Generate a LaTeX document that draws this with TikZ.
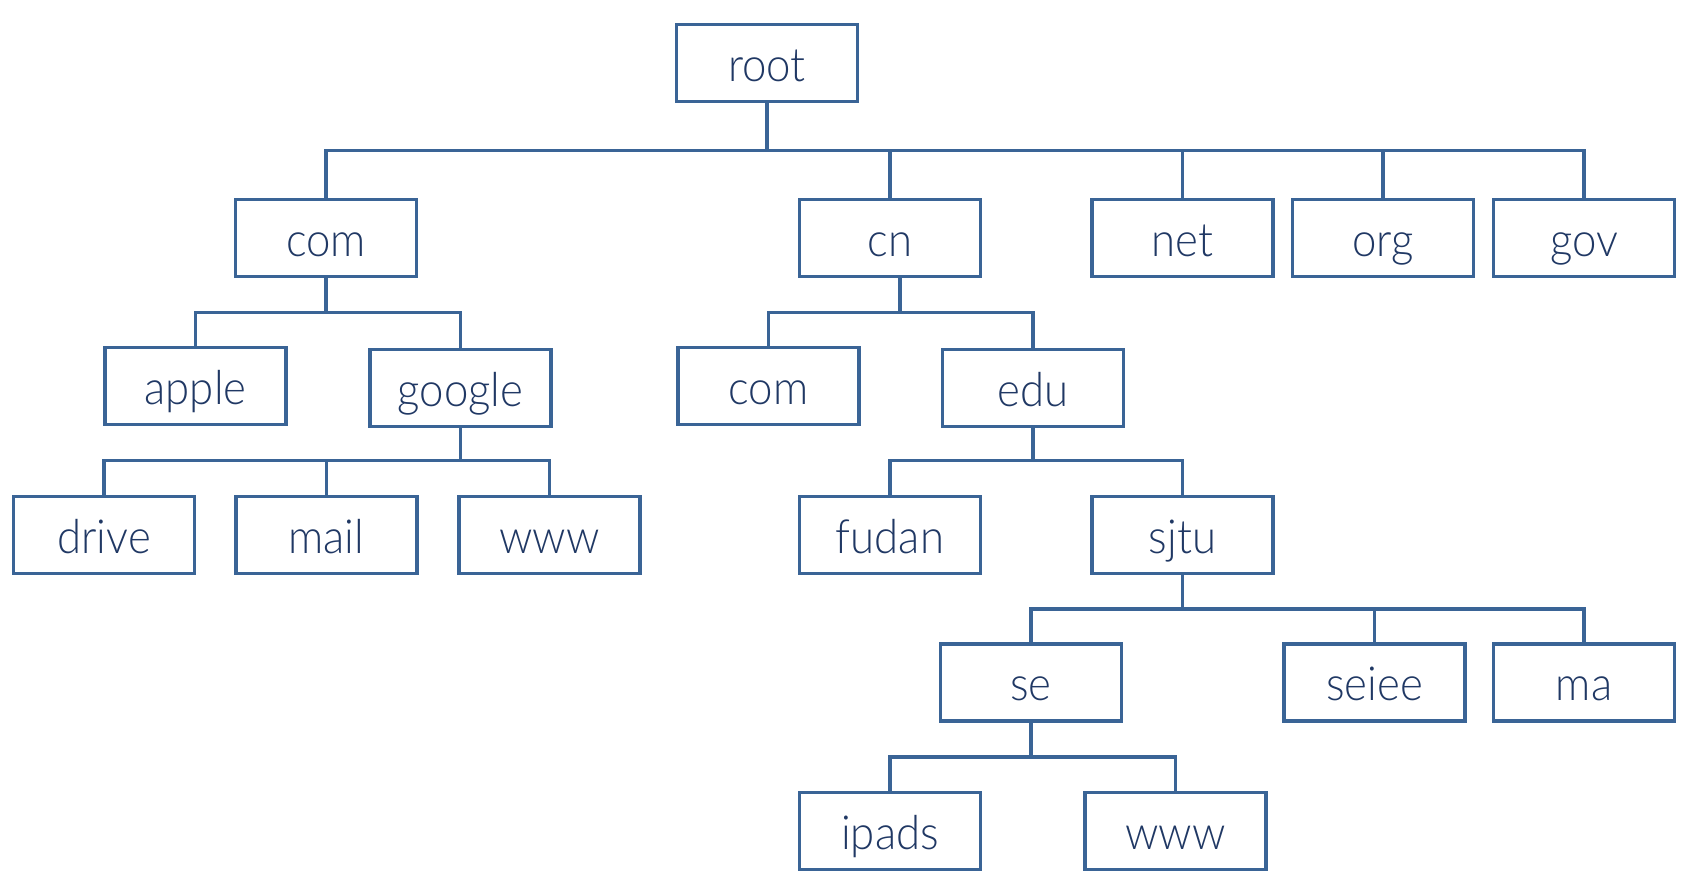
\documentclass[tikz,border=0pt]{standalone}
\usepackage{fontspec}
\setmainfont{Lato}[UprightFont=* Light, FakeStretch=0.93]
\definecolor{boxblue}{RGB}{58,100,150}
\definecolor{txtblue}{RGB}{32,56,100}
\tikzset{
  dom/.style={draw=boxblue, line width=3.5pt, minimum width=181pt, minimum height=77pt,
    inner sep=0pt, text=txtblue, font=\fontsize{47}{50}\selectfont,
    text height=36pt, text depth=0pt},
  conn/.style={draw=boxblue, line width=3.3pt, line join=miter}
}
\begin{document}
\begin{tikzpicture}[x=1pt,y=-1pt]
\useasboundingbox (0,0) rectangle (1684,881);
% bus levels
\coordinate (y1) at (0,150.5);
\coordinate (y2) at (0,312.5);
\coordinate (y3) at (0,460.7);
\coordinate (y4) at (0,609);
\coordinate (y5) at (0,757);
\coordinate (cnx) at (900,0);
% nodes
\node[dom] (root) at (767,63) {root};
\node[dom] (com) at (326,238) {com};
\node[dom] (cn) at (890,238) {cn};
\node[dom] (net) at (1182.5,238) {net};
\node[dom] (org) at (1383,238) {org};
\node[dom] (gov) at (1584,238) {gov};
\node[dom] (apple) at (195.5,386) {apple};
\node[dom] (google) at (460.5,388) {google};
\node[dom] (com2) at (768.5,386) {com};
\node[dom] (edu) at (1033,388) {edu};
\node[dom] (drive) at (104,535) {drive};
\node[dom] (mail) at (326.5,535) {mail};
\node[dom] (www) at (549.5,535) {www};
\node[dom] (fudan) at (890,535) {fudan};
\node[dom] (sjtu) at (1182.5,535) {sjtu};
\node[dom] (se) at (1031,682.5) {se};
\node[dom] (seiee) at (1374.7,682.5) {seiee};
\node[dom] (ma) at (1584,682.5) {ma};
\node[dom] (ipads) at (890,831) {ipads};
\node[dom] (www2) at (1175.5,831) {www};
% root family
\draw[conn] (root.south) -- (root.south |- y1);
\draw[conn] (com.north) -- (com.north |- y1) -- (gov.north |- y1) -- (gov.north);
\draw[conn] (cn.north) -- (cn.north |- y1);
\draw[conn] (net.north) -- (net.north |- y1);
\draw[conn] (org.north) -- (org.north |- y1);
% com family
\draw[conn] (com.south) -- (com.south |- y2);
\draw[conn] (apple.north) -- (apple.north |- y2) -- (google.north |- y2) -- (google.north);
% cn family
\draw[conn] (cn.south -| cnx) -- (cnx |- y2);
\draw[conn] (com2.north) -- (com2.north |- y2) -- (edu.north |- y2) -- (edu.north);
% google family
\draw[conn] (google.south) -- (google.south |- y3);
\draw[conn] (drive.north) -- (drive.north |- y3) -- (www.north |- y3) -- (www.north);
\draw[conn] (mail.north) -- (mail.north |- y3);
% edu family
\draw[conn] (edu.south) -- (edu.south |- y3);
\draw[conn] (fudan.north) -- (fudan.north |- y3) -- (sjtu.north |- y3) -- (sjtu.north);
% sjtu family
\draw[conn] (sjtu.south) -- (sjtu.south |- y4);
\draw[conn] (se.north) -- (se.north |- y4) -- (ma.north |- y4) -- (ma.north);
\draw[conn] (seiee.north) -- (seiee.north |- y4);
% se family
\draw[conn] (se.south) -- (se.south |- y5);
\draw[conn] (ipads.north) -- (ipads.north |- y5) -- (www2.north |- y5) -- (www2.north);
\end{tikzpicture}
\end{document}
